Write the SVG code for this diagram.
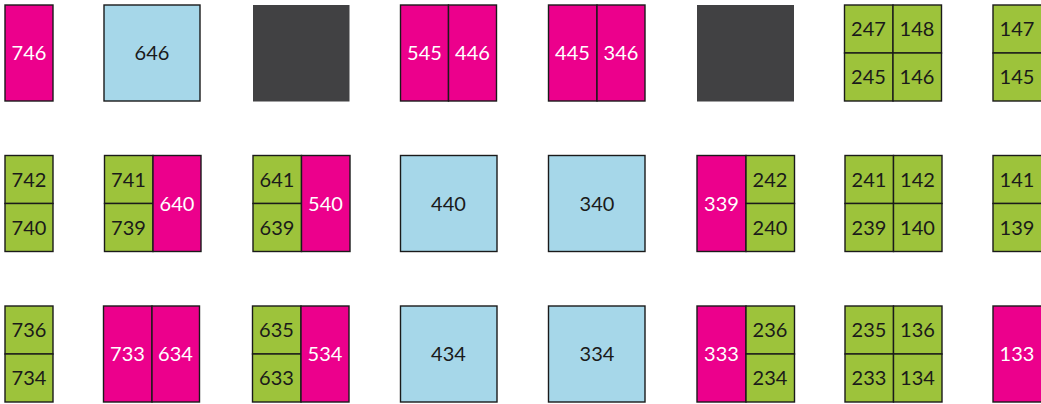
<svg xmlns="http://www.w3.org/2000/svg" width="1041" height="404" viewBox="0 0 1041 404">
<style>
rect{stroke:#1a1a1a;stroke-width:1.4}
.p{fill:#EC008C}
.b{fill:#A6D7E9}
.g{fill:#9DC33B}
.d{fill:#414143;stroke:none}
text{font-family:Lato,"Open Sans","Liberation Sans",sans-serif;font-size:20px;text-anchor:middle}
.w{fill:#ffffff}
.k{fill:#1a1a1a}
</style>
<rect x="0" y="0" width="1041" height="404" fill="#ffffff" style="stroke:none"/>
<!-- Row 1 -->
<g id="n746"><rect class="p" x="5" y="5" width="48" height="96"/><text class="w" x="29" y="60">746</text></g>
<g id="n646"><rect class="b" x="104" y="5" width="96" height="96"/><text class="k" x="152" y="60">646</text></g>
<g id="dark1"><rect class="d" x="253" y="5" width="96.5" height="96.5"/></g>
<g id="n545-446"><rect class="p" x="400.5" y="5" width="48" height="96"/><rect class="p" x="448.5" y="5" width="48" height="96"/><text class="w" x="424.5" y="60">545</text><text class="w" x="472.5" y="60">446</text></g>
<g id="n445-346"><rect class="p" x="548.5" y="5" width="48.5" height="96"/><rect class="p" x="597" y="5" width="48" height="96"/><text class="w" x="572.5" y="60">445</text><text class="w" x="621" y="60">346</text></g>
<g id="dark2"><rect class="d" x="697" y="5" width="97" height="96.5"/></g>
<g id="n247-146"><rect class="g" x="844.5" y="5" width="48.5" height="48"/><rect class="g" x="893" y="5" width="48.5" height="48"/><rect class="g" x="844.5" y="53" width="48.5" height="48"/><rect class="g" x="893" y="53" width="48.5" height="48"/><text class="k" x="868.5" y="36">247</text><text class="k" x="917" y="36">148</text><text class="k" x="868.5" y="84">245</text><text class="k" x="917" y="84">146</text></g>
<g id="n147-145"><rect class="g" x="993" y="5" width="50" height="48"/><rect class="g" x="993" y="53" width="50" height="48"/><text class="k" x="1017" y="36">147</text><text class="k" x="1017" y="84">145</text></g>
<!-- Row 2 -->
<g id="n742-740"><rect class="g" x="5" y="155.5" width="48" height="48"/><rect class="g" x="5" y="203.5" width="48" height="48"/><text class="k" x="29" y="187">742</text><text class="k" x="29" y="235">740</text></g>
<g id="n741-640"><rect class="g" x="104.5" y="155.5" width="48.5" height="48"/><rect class="g" x="104.5" y="203.5" width="48.5" height="48"/><rect class="p" x="153" y="155.5" width="48" height="96"/><text class="k" x="128.5" y="187">741</text><text class="k" x="128.5" y="235">739</text><text class="w" x="177" y="211">640</text></g>
<g id="n641-540"><rect class="g" x="253" y="155.5" width="48.5" height="48"/><rect class="g" x="253" y="203.5" width="48.5" height="48"/><rect class="p" x="301.5" y="155.5" width="48.5" height="96"/><text class="k" x="277" y="187">641</text><text class="k" x="277" y="235">639</text><text class="w" x="325.5" y="211">540</text></g>
<g id="n440"><rect class="b" x="400.5" y="155.5" width="96.5" height="96"/><text class="k" x="448.5" y="211">440</text></g>
<g id="n340"><rect class="b" x="548.5" y="155.5" width="96.5" height="96"/><text class="k" x="597" y="211">340</text></g>
<g id="n339-240"><rect class="p" x="697" y="155.5" width="49" height="96"/><rect class="g" x="746" y="155.5" width="48.5" height="48"/><rect class="g" x="746" y="203.5" width="48.5" height="48"/><text class="w" x="721.5" y="211">339</text><text class="k" x="770" y="187">242</text><text class="k" x="770" y="235">240</text></g>
<g id="n241-140"><rect class="g" x="845" y="155.5" width="48.5" height="48"/><rect class="g" x="893.5" y="155.5" width="48.5" height="48"/><rect class="g" x="845" y="203.5" width="48.5" height="48"/><rect class="g" x="893.5" y="203.5" width="48.5" height="48"/><text class="k" x="869" y="187">241</text><text class="k" x="917.5" y="187">142</text><text class="k" x="869" y="235">239</text><text class="k" x="917.5" y="235">140</text></g>
<g id="n141-139"><rect class="g" x="993" y="155.5" width="50" height="48"/><rect class="g" x="993" y="203.5" width="50" height="48"/><text class="k" x="1017" y="187">141</text><text class="k" x="1017" y="235">139</text></g>
<!-- Row 3 -->
<g id="n736-734"><rect class="g" x="5" y="306" width="48" height="48"/><rect class="g" x="5" y="354" width="48" height="48"/><text class="k" x="29" y="337">736</text><text class="k" x="29" y="385">734</text></g>
<g id="n733-634"><rect class="p" x="103.5" y="306" width="48.5" height="96"/><rect class="p" x="152" y="306" width="47.5" height="96"/><text class="w" x="127.5" y="361">733</text><text class="w" x="175.5" y="361">634</text></g>
<g id="n635-534"><rect class="g" x="252.5" y="306" width="48.5" height="48"/><rect class="g" x="252.5" y="354" width="48.5" height="48"/><rect class="p" x="301" y="306" width="48" height="96"/><text class="k" x="276.5" y="337">635</text><text class="k" x="276.5" y="385">633</text><text class="w" x="325" y="361">534</text></g>
<g id="n434"><rect class="b" x="400.5" y="306" width="96.5" height="96"/><text class="k" x="448.5" y="361">434</text></g>
<g id="n334"><rect class="b" x="548.5" y="306" width="96.5" height="96"/><text class="k" x="597" y="361">334</text></g>
<g id="n333-234"><rect class="p" x="697" y="306" width="49" height="96"/><rect class="g" x="746" y="306" width="48.5" height="48"/><rect class="g" x="746" y="354" width="48.5" height="48"/><text class="w" x="721.5" y="361">333</text><text class="k" x="770" y="337">236</text><text class="k" x="770" y="385">234</text></g>
<g id="n235-134"><rect class="g" x="845" y="306" width="48.5" height="48"/><rect class="g" x="893.5" y="306" width="48.5" height="48"/><rect class="g" x="845" y="354" width="48.5" height="48"/><rect class="g" x="893.5" y="354" width="48.5" height="48"/><text class="k" x="869" y="337">235</text><text class="k" x="917.5" y="337">136</text><text class="k" x="869" y="385">233</text><text class="k" x="917.5" y="385">134</text></g>
<g id="n133"><rect class="p" x="993" y="306" width="50" height="96"/><text class="w" x="1017" y="361">133</text></g>
<g id="connectors"></g>
</svg>
